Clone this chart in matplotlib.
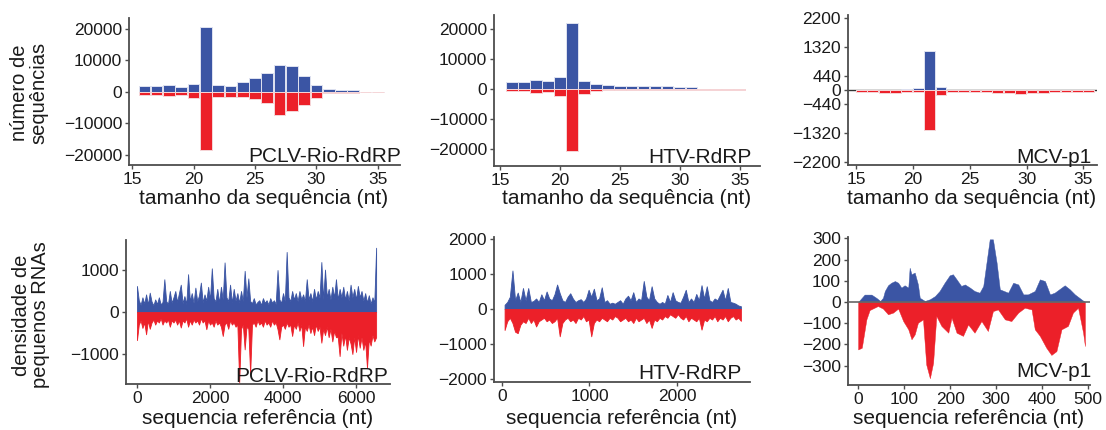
import numpy as np
import matplotlib
matplotlib.use("Agg")
import matplotlib.pyplot as plt

plt.rcParams["font.family"] = ["Liberation Sans", "DejaVu Sans"]

BLUE = "#3b55a4"
RED = "#ec2029"
TEXT = "#1a1a1a"
AXIS = "#4d4d4d"

# ---------------------------------------------------------------
# size distribution of small RNAs (positive = sense, negative = antisense)

len_pclv = list(range(16, 36))
pclv_len_plus = [1900, 1900, 2200, 1500, 2500, 20500, 2100, 1900, 3200, 4300,
                 5900, 8600, 8200, 5200, 2100, 1000, 500, 500, 100, 100]
pclv_len_minus = [-1000, -1000, -1400, -1000, -1900, -18300, -1600, -1600, -1600, -2300,
                  -3500, -7400, -5900, -4100, -1900, -400, -200, -200, -100, -100]

len_htv = list(range(16, 36))
htv_len_plus = [2600, 2600, 3200, 2900, 4200, 22100, 2900, 1900, 1600, 1300,
                1300, 1000, 1000, 1000, 650, 650, 300, 100, 100, 100]
htv_len_minus = [-650, -650, -1300, -900, -2300, -20400, -1600, -650, -300, -300,
                 -200, -200, -200, -150, -150, -100, -100, -50, -50, -50]

len_mcv = list(range(15, 36))
mcv_len_plus = [0, 0, 0, 0, 20, 50, 1190, 85, 0, 0,
                0, 0, 0, 0, 0, 0, 0, 0, 0, 0, 0]
mcv_len_minus = [-50, -50, -85, -85, -75, -75, -1240, -150, -75, -75,
                 -75, -75, -105, -105, -135, -85, -85, -60, -60, -60, -60]

# ---------------------------------------------------------------
# small RNA density along each reference sequence

pclv_pos = np.arange(0, 6600, 50)
pclv_plus = [620, 280, 170, 350, 200, 420, 180, 460, 250, 160,
             300, 190, 350, 180, 240, 780, 260, 190, 500, 220,
             350, 500, 240, 450, 650, 210, 380, 190, 900, 260,
             450, 220, 580, 260, 400, 700, 230, 420, 270, 600,
             300, 1040, 330, 250, 550, 220, 600, 300, 1180, 350,
             260, 650, 220, 550, 270, 450, 220, 500, 260, 980,
             350, 800, 260, 210, 330, 180, 240, 280, 170, 330,
             220, 280, 180, 330, 220, 280, 190, 1000, 300, 220,
             450, 260, 1430, 350, 260, 500, 300, 450, 260, 500,
             300, 420, 260, 780, 300, 450, 260, 550, 300, 500,
             340, 1190, 300, 1010, 350, 550, 300, 600, 350, 780,
             300, 550, 350, 600, 300, 500, 270, 650, 350, 550,
             300, 620, 350, 500, 270, 450, 230, 400, 200, 350,
             230, 1530]
pclv_minus = [-670, -300, -200, -380, -250, -530, -200, -400, -250, -180,
              -300, -200, -250, -150, -300, -200, -250, -180, -350, -200,
              -250, -180, -300, -200, -370, -200, -250, -150, -350, -200,
              -300, -180, -250, -200, -300, -150, -250, -200, -410, -200,
              -300, -250, -350, -200, -300, -250, -350, -570, -300, -250,
              -400, -200, -300, -250, -350, -300, -1680, -400, -300, -890,
              -350, -400, -1480, -300, -250, -350, -200, -300, -250, -350,
              -200, -300, -250, -350, -200, -300, -250, -410, -650, -350,
              -300, -400, -250, -350, -300, -570, -300, -400, -250, -450,
              -300, -810, -350, -450, -300, -500, -350, -550, -300, -450,
              -350, -730, -400, -550, -350, -600, -400, -700, -450, -600,
              -600, -1050, -500, -800, -550, -900, -600, -750, -1000, -600,
              -950, -550, -850, -600, -900, -700, -1330, -650, -800, -550,
              -700, -600]

htv_pos = np.arange(30, 2760, 30)
htv_plus = [120, 200, 350, 1100, 250, 470, 200, 600, 250, 600,
            200, 230, 300, 200, 420, 250, 500, 300, 250, 420,
            700, 450, 250, 200, 350, 450, 300, 200, 250, 280,
            200, 300, 550, 350, 580, 250, 300, 620, 200, 250,
            150, 180, 150, 200, 250, 150, 300, 380, 250, 480,
            200, 300, 250, 800, 350, 250, 650, 300, 200, 150,
            200, 150, 400, 200, 480, 250, 200, 180, 350, 550,
            200, 300, 200, 430, 250, 680, 300, 650, 250, 200,
            300, 250, 400, 550, 250, 600, 200, 180, 150, 100,
            80]
htv_minus = [-600, -350, -250, -400, -650, -690, -450, -350, -400, -250,
             -400, -300, -500, -350, -300, -250, -350, -300, -400, -350,
             -250, -780, -400, -300, -250, -350, -300, -400, -250, -300,
             -200, -350, -300, -780, -400, -300, -350, -250, -300, -350,
             -250, -300, -200, -250, -350, -300, -250, -350, -300, -400,
             -250, -350, -300, -250, -400, -300, -540, -300, -350, -250,
             -300, -200, -250, -150, -200, -250, -150, -250, -300, -200,
             -350, -250, -300, -350, -250, -590, -300, -350, -250, -300,
             -200, -350, -250, -300, -200, -350, -250, -200, -300, -250,
             -340]

mcv_plus_pos = [0, 8, 14, 29, 40, 48, 54, 58, 65, 72,
                80, 87, 94, 101, 109, 112, 116, 123, 130, 134,
                145, 156, 167, 177, 188, 199, 206, 214, 224, 232,
                243, 253, 264, 272, 279, 286, 293, 301, 308, 326,
                337, 348, 359, 369, 384, 395, 406, 417, 427, 449,
                460, 471, 485, 493]
mcv_plus = [0, 20, 35, 35, 19, 5, 20, 52, 79, 91,
            99, 91, 68, 79, 68, 162, 131, 139, 83, 20,
            5, 13, 28, 52, 91, 126, 131, 107, 76, 83,
            68, 52, 44, 76, 186, 296, 296, 186, 60, 44,
            91, 83, 36, 36, 52, 107, 99, 36, 44, 79,
            60, 36, 13, 0]
mcv_minus_pos = [0, 8, 18, 25, 43, 54, 65, 76, 87, 98,
                 109, 116, 123, 130, 141, 148, 156, 163, 170, 181,
                 196, 203, 214, 228, 239, 253, 268, 282, 293, 304,
                 319, 333, 348, 362, 377, 384, 395, 409, 420, 431,
                 442, 456, 467, 478, 489, 493]
mcv_minus = [-224, -216, -82, -38, -19, -31, -58, -50, -31, -90,
             -129, -176, -153, -98, -82, -295, -360, -287, -66, -113,
             -145, -74, -145, -160, -106, -145, -90, -137, -43, -35,
             -82, -90, -50, -27, -35, -129, -160, -216, -250, -232,
             -129, -113, -50, -27, -145, -208]

# ---------------------------------------------------------------

W, H = 1106, 430
fig = plt.figure(figsize=(W / 100, H / 100), dpi=100)


def add_panel(left, top, right, bottom):
    # axes box given in pixels from the top-left corner of the figure
    return fig.add_axes([left / W, 1 - bottom / H, (right - left) / W, (bottom - top) / H])


def style_axes(ax):
    for side in ("top", "right"):
        ax.spines[side].set_visible(False)
    for side in ("left", "bottom"):
        ax.spines[side].set_color(AXIS)
        ax.spines[side].set_linewidth(1.3)
    ax.tick_params(length=3, width=1, color=AXIS, labelsize=12.5, pad=2, labelcolor=TEXT)
    ax.patch.set_alpha(0)


def put_text(x, y, s, **kw):
    fig.text(x / W, 1 - y / H, s, color=TEXT, **kw)


def size_panel(ax, lengths, plus, minus, align="center"):
    ax.bar(lengths, plus, width=0.95, align=align, color=BLUE, edgecolor="#dfe2f0", linewidth=0.7)
    ax.bar(lengths, minus, width=0.95, align=align, color=RED, edgecolor="#f6d6d8", linewidth=0.7)
    ax.set_xticks([15, 20, 25, 30, 35])
    style_axes(ax)


def density_panel(ax, pos_plus, plus, pos_minus, minus, lw=0.6):
    ax.fill_between(pos_plus, 0, plus, color=BLUE, linewidth=lw, edgecolor=BLUE)
    ax.fill_between(pos_minus, 0, minus, color=RED, linewidth=lw, edgecolor=RED)
    style_axes(ax)


# top row: read length distributions
ax1 = add_panel(129, 18, 400, 165)
size_panel(ax1, len_pclv, pclv_len_plus, pclv_len_minus)
ax1.set_xlim(14.75, 36.8)
ax1.set_ylim(-23200, 23500)
ax1.set_yticks([-20000, -10000, 0, 10000, 20000])

ax2 = add_panel(494, 15, 760, 166)
size_panel(ax2, len_htv, htv_len_plus, htv_len_minus)
ax2.set_xlim(14.5, 36.7)
ax2.set_ylim(-25500, 24800)
ax2.set_yticks([-20000, -10000, 0, 10000, 20000])

ax3 = add_panel(848, 15, 1097, 165)
size_panel(ax3, len_mcv, mcv_len_plus, mcv_len_minus, align="edge")
ax3.axhline(0, color="#333333", linewidth=1.0, zorder=0)
ax3.set_xlim(14.3, 36.2)
ax3.set_ylim(-2300, 2300)
ax3.set_yticks([-2200, -1320, -440, 0, 440, 1320, 2200])

# bottom row: coverage along the reference
ax4 = add_panel(126, 240, 390, 384)
density_panel(ax4, pclv_pos, pclv_plus, pclv_pos, pclv_minus)
ax4.set_xlim(-300, 6930)
ax4.set_ylim(-1714, 1714)
ax4.set_xticks([0, 2000, 4000, 6000])
ax4.set_yticks([-1000, 0, 1000])

ax5 = add_panel(494, 237, 750, 382)
density_panel(ax5, htv_pos, htv_plus, htv_pos, htv_minus)
ax5.set_xlim(-91, 2834)
ax5.set_ylim(-2086, 2057)
ax5.set_xticks([0, 1000, 2000])
ax5.set_yticks([-2000, -1000, 0, 1000, 2000])

ax6 = add_panel(848, 237, 1090, 385)
density_panel(ax6, mcv_plus_pos, mcv_plus, mcv_minus_pos, mcv_minus, lw=0.3)
ax6.axhline(0, color="#666666", linewidth=1.2, zorder=3)
ax6.set_xlim(-22, 504)
ax6.set_ylim(-392, 307)
ax6.set_xticks([0, 100, 200, 300, 400, 500])
ax6.set_yticks([-300, -200, -100, 0, 100, 200, 300])

# panel names
for x, y, name in [(401, 162, "PCLV-Rio-RdRP"), (752, 163, "HTV-RdRP"), (1091, 163, "MCV-p1"),
                   (388, 382, "PCLV-Rio-RdRP"), (742, 379, "HTV-RdRP"), (1092, 377, "MCV-p1")]:
    put_text(x, y, name, fontsize=15, ha="right", va="baseline")

# axis titles
for cx in (264, 627, 972):
    put_text(cx, 198, "tamanho da sequência (nt)", fontsize=15, ha="center", va="center")
for cx in (258, 622, 969):
    put_text(cx, 418, "sequencia referência (nt)", fontsize=15, ha="center", va="center")

put_text(29, 93, "número de\nsequências", fontsize=14.5, rotation=90,
         ha="center", va="center", multialignment="center", linespacing=1.05)
put_text(31, 315, "densidade de\npequenos RNAs", fontsize=14.5, rotation=90,
         ha="center", va="center", multialignment="center", linespacing=1.05)

fig.savefig("out.png", dpi=100)
